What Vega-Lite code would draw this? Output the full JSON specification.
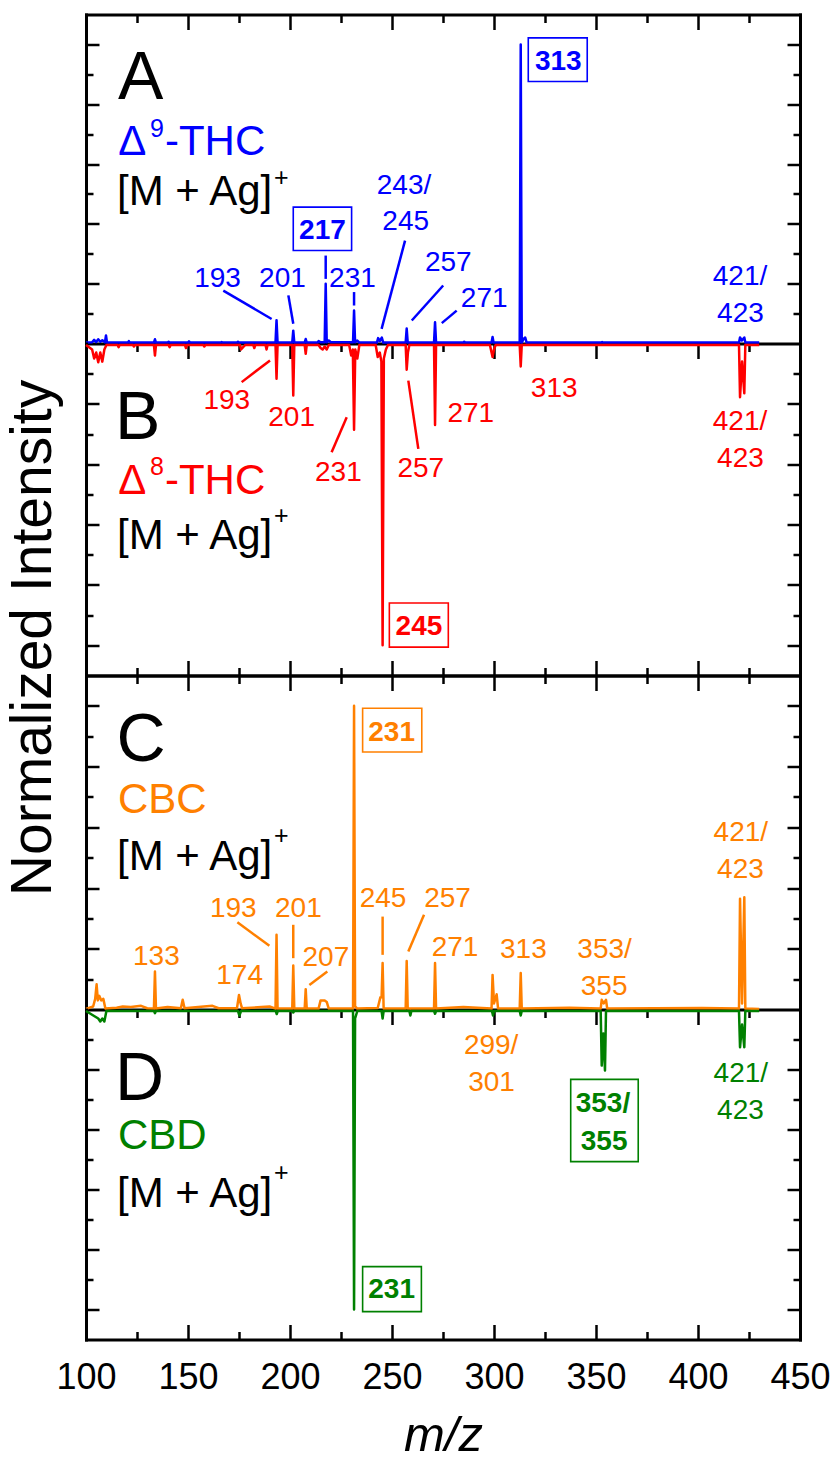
{
  "$schema": "https://vega.github.io/schema/vega-lite/v6.json",
  "padding": {"left": 4, "top": 12.5, "right": 4, "bottom": 0},
  "spacing": 0,
  "bounds": "flush",
  "config": {
    "view": {"stroke": null},
    "font": "Liberation Sans",
    "text": {"font": "Liberation Sans"},
    "axis": {"domainColor": "#000000", "domainWidth": 3, "domainCap": "square", "tickColor": "#000000", "tickWidth": 2.5, "grid": false, "labels": false, "ticks": true}
  },
  "datasets": {
    "spec": [
      {"s":"Δ9-THC","mz":100,"i":0.003},{"s":"Δ9-THC","mz":103,"i":0.004},{"s":"Δ9-THC","mz":104,"i":0.012},{"s":"Δ9-THC","mz":105,"i":0.005},{"s":"Δ9-THC","mz":106,"i":0.014},{"s":"Δ9-THC","mz":107,"i":0.006},{"s":"Δ9-THC","mz":108,"i":0.011},{"s":"Δ9-THC","mz":109.3,"i":0.004},{"s":"Δ9-THC","mz":109.8,"i":0.027},{"s":"Δ9-THC","mz":110.3,"i":0.003},
      {"s":"Δ9-THC","mz":120.5,"i":0.003},{"s":"Δ9-THC","mz":121,"i":0.008},{"s":"Δ9-THC","mz":121.5,"i":0.003},
      {"s":"Δ9-THC","mz":133.3,"i":0.003},{"s":"Δ9-THC","mz":133.8,"i":0.014},{"s":"Δ9-THC","mz":134.3,"i":0.003},
      {"s":"Δ9-THC","mz":140,"i":0.003},{"s":"Δ9-THC","mz":140.5,"i":0.006},{"s":"Δ9-THC","mz":141,"i":0.003},
      {"s":"Δ9-THC","mz":150,"i":0.003},{"s":"Δ9-THC","mz":150.5,"i":0.007},{"s":"Δ9-THC","mz":151,"i":0.003},
      {"s":"Δ9-THC","mz":166,"i":0.003},{"s":"Δ9-THC","mz":166.5,"i":0.005},{"s":"Δ9-THC","mz":167,"i":0.003},
      {"s":"Δ9-THC","mz":174,"i":0.003},{"s":"Δ9-THC","mz":174.5,"i":0.006},{"s":"Δ9-THC","mz":175,"i":0.003},
      {"s":"Δ9-THC","mz":192.9,"i":0.003},{"s":"Δ9-THC","mz":193.4,"i":0.078},{"s":"Δ9-THC","mz":193.9,"i":0.003},
      {"s":"Δ9-THC","mz":201.1,"i":0.003},{"s":"Δ9-THC","mz":201.6,"i":0.043},{"s":"Δ9-THC","mz":202.1,"i":0.003},
      {"s":"Δ9-THC","mz":207.2,"i":0.003},{"s":"Δ9-THC","mz":207.7,"i":0.015},{"s":"Δ9-THC","mz":208.2,"i":0.003},
      {"s":"Δ9-THC","mz":213.5,"i":0.003},{"s":"Δ9-THC","mz":214,"i":0.008},{"s":"Δ9-THC","mz":215,"i":0.004},
      {"s":"Δ9-THC","mz":217,"i":0.004},{"s":"Δ9-THC","mz":217.5,"i":0.2},{"s":"Δ9-THC","mz":218,"i":0.004},{"s":"Δ9-THC","mz":219,"i":0.01},{"s":"Δ9-THC","mz":220,"i":0.004},
      {"s":"Δ9-THC","mz":230.9,"i":0.004},{"s":"Δ9-THC","mz":231.4,"i":0.11},{"s":"Δ9-THC","mz":231.9,"i":0.004},{"s":"Δ9-THC","mz":233,"i":0.01},{"s":"Δ9-THC","mz":234,"i":0.003},
      {"s":"Δ9-THC","mz":242.6,"i":0.003},{"s":"Δ9-THC","mz":243.2,"i":0.018},{"s":"Δ9-THC","mz":244,"i":0.008},{"s":"Δ9-THC","mz":245,"i":0.02},{"s":"Δ9-THC","mz":245.7,"i":0.003},
      {"s":"Δ9-THC","mz":256.7,"i":0.003},{"s":"Δ9-THC","mz":257.2,"i":0.05},{"s":"Δ9-THC","mz":257.7,"i":0.003},
      {"s":"Δ9-THC","mz":270.6,"i":0.003},{"s":"Δ9-THC","mz":271.1,"i":0.071},{"s":"Δ9-THC","mz":271.6,"i":0.003},
      {"s":"Δ9-THC","mz":285,"i":0.003},{"s":"Δ9-THC","mz":285.4,"i":0.006},{"s":"Δ9-THC","mz":285.8,"i":0.003},
      {"s":"Δ9-THC","mz":298.8,"i":0.003},{"s":"Δ9-THC","mz":299.3,"i":0.022},{"s":"Δ9-THC","mz":299.8,"i":0.003},
      {"s":"Δ9-THC","mz":312.6,"i":0.003},{"s":"Δ9-THC","mz":313.1,"i":1.0},{"s":"Δ9-THC","mz":313.6,"i":0.003},{"s":"Δ9-THC","mz":314.5,"i":0.015},{"s":"Δ9-THC","mz":315.3,"i":0.02},{"s":"Δ9-THC","mz":316,"i":0.003},
      {"s":"Δ9-THC","mz":352.5,"i":0.003},{"s":"Δ9-THC","mz":353,"i":0.005},{"s":"Δ9-THC","mz":353.5,"i":0.003},
      {"s":"Δ9-THC","mz":420.1,"i":0.003},{"s":"Δ9-THC","mz":420.6,"i":0.02},{"s":"Δ9-THC","mz":421.5,"i":0.01},{"s":"Δ9-THC","mz":422.7,"i":0.02},{"s":"Δ9-THC","mz":423.2,"i":0.003},
      {"s":"Δ9-THC","mz":430,"i":0.003},

      {"s":"Δ8-THC","mz":100,"i":-0.005},{"s":"Δ8-THC","mz":103,"i":-0.02},{"s":"Δ8-THC","mz":104,"i":-0.05},{"s":"Δ8-THC","mz":105,"i":-0.03},{"s":"Δ8-THC","mz":106,"i":-0.062},{"s":"Δ8-THC","mz":107,"i":-0.03},{"s":"Δ8-THC","mz":108,"i":-0.06},{"s":"Δ8-THC","mz":109,"i":-0.02},{"s":"Δ8-THC","mz":110,"i":-0.005},
      {"s":"Δ8-THC","mz":115.5,"i":-0.005},{"s":"Δ8-THC","mz":116,"i":-0.012},{"s":"Δ8-THC","mz":116.5,"i":-0.005},
      {"s":"Δ8-THC","mz":123,"i":-0.005},{"s":"Δ8-THC","mz":123.5,"i":-0.01},{"s":"Δ8-THC","mz":124,"i":-0.005},
      {"s":"Δ8-THC","mz":133.3,"i":-0.005},{"s":"Δ8-THC","mz":133.8,"i":-0.04},{"s":"Δ8-THC","mz":134.3,"i":-0.005},
      {"s":"Δ8-THC","mz":140.5,"i":-0.005},{"s":"Δ8-THC","mz":141,"i":-0.012},{"s":"Δ8-THC","mz":141.5,"i":-0.005},
      {"s":"Δ8-THC","mz":148.5,"i":-0.005},{"s":"Δ8-THC","mz":149,"i":-0.015},{"s":"Δ8-THC","mz":149.5,"i":-0.005},
      {"s":"Δ8-THC","mz":157.5,"i":-0.005},{"s":"Δ8-THC","mz":158,"i":-0.01},{"s":"Δ8-THC","mz":158.5,"i":-0.005},
      {"s":"Δ8-THC","mz":175.5,"i":-0.005},{"s":"Δ8-THC","mz":176,"i":-0.02},{"s":"Δ8-THC","mz":177,"i":-0.012},{"s":"Δ8-THC","mz":178,"i":-0.005},
      {"s":"Δ8-THC","mz":182,"i":-0.005},{"s":"Δ8-THC","mz":182.5,"i":-0.015},{"s":"Δ8-THC","mz":183,"i":-0.005},
      {"s":"Δ8-THC","mz":188,"i":-0.005},{"s":"Δ8-THC","mz":188.5,"i":-0.02},{"s":"Δ8-THC","mz":189,"i":-0.005},
      {"s":"Δ8-THC","mz":192.9,"i":-0.005},{"s":"Δ8-THC","mz":193.4,"i":-0.117},{"s":"Δ8-THC","mz":193.9,"i":-0.005},
      {"s":"Δ8-THC","mz":201.1,"i":-0.005},{"s":"Δ8-THC","mz":201.6,"i":-0.172},{"s":"Δ8-THC","mz":202.1,"i":-0.005},
      {"s":"Δ8-THC","mz":207.2,"i":-0.005},{"s":"Δ8-THC","mz":207.7,"i":-0.034},{"s":"Δ8-THC","mz":208.2,"i":-0.005},
      {"s":"Δ8-THC","mz":214,"i":-0.005},{"s":"Δ8-THC","mz":215,"i":-0.015},{"s":"Δ8-THC","mz":216,"i":-0.02},{"s":"Δ8-THC","mz":217,"i":-0.01},{"s":"Δ8-THC","mz":218,"i":-0.02},{"s":"Δ8-THC","mz":219,"i":-0.005},
      {"s":"Δ8-THC","mz":229,"i":-0.005},{"s":"Δ8-THC","mz":230,"i":-0.04},{"s":"Δ8-THC","mz":230.8,"i":-0.02},{"s":"Δ8-THC","mz":231.4,"i":-0.286},{"s":"Δ8-THC","mz":232,"i":-0.02},{"s":"Δ8-THC","mz":233,"i":-0.05},{"s":"Δ8-THC","mz":234,"i":-0.005},
      {"s":"Δ8-THC","mz":242,"i":-0.005},{"s":"Δ8-THC","mz":243,"i":-0.045},{"s":"Δ8-THC","mz":244,"i":-0.03},{"s":"Δ8-THC","mz":244.8,"i":-0.06},{"s":"Δ8-THC","mz":245.4,"i":-1.0},{"s":"Δ8-THC","mz":246,"i":-0.05},{"s":"Δ8-THC","mz":247,"i":-0.02},{"s":"Δ8-THC","mz":248,"i":-0.005},
      {"s":"Δ8-THC","mz":256.7,"i":-0.005},{"s":"Δ8-THC","mz":257.2,"i":-0.087},{"s":"Δ8-THC","mz":257.8,"i":-0.03},{"s":"Δ8-THC","mz":258.5,"i":-0.005},
      {"s":"Δ8-THC","mz":270.6,"i":-0.005},{"s":"Δ8-THC","mz":271.1,"i":-0.27},{"s":"Δ8-THC","mz":271.6,"i":-0.005},
      {"s":"Δ8-THC","mz":298,"i":-0.005},{"s":"Δ8-THC","mz":298.8,"i":-0.03},{"s":"Δ8-THC","mz":299.3,"i":-0.045},{"s":"Δ8-THC","mz":300,"i":-0.02},{"s":"Δ8-THC","mz":300.8,"i":-0.005},
      {"s":"Δ8-THC","mz":312.6,"i":-0.005},{"s":"Δ8-THC","mz":313.1,"i":-0.076},{"s":"Δ8-THC","mz":313.6,"i":-0.005},
      {"s":"Δ8-THC","mz":420.1,"i":-0.005},{"s":"Δ8-THC","mz":420.6,"i":-0.178},{"s":"Δ8-THC","mz":421.6,"i":-0.06},{"s":"Δ8-THC","mz":422.7,"i":-0.165},{"s":"Δ8-THC","mz":423.2,"i":-0.005},
      {"s":"Δ8-THC","mz":430,"i":-0.005},

      {"s":"CBC","mz":100,"i":0.002},{"s":"CBC","mz":103.5,"i":0.01},{"s":"CBC","mz":104.5,"i":0.035},{"s":"CBC","mz":105.2,"i":0.083},{"s":"CBC","mz":105.8,"i":0.03},{"s":"CBC","mz":106.5,"i":0.045},{"s":"CBC","mz":107.5,"i":0.03},{"s":"CBC","mz":108.5,"i":0.035},{"s":"CBC","mz":109.5,"i":0.003},
      {"s":"CBC","mz":115,"i":0.006},{"s":"CBC","mz":118,"i":0.01},{"s":"CBC","mz":122,"i":0.008},{"s":"CBC","mz":127,"i":0.012},{"s":"CBC","mz":130,"i":0.004},
      {"s":"CBC","mz":133.3,"i":0.003},{"s":"CBC","mz":133.8,"i":0.125},{"s":"CBC","mz":134.3,"i":0.003},
      {"s":"CBC","mz":140,"i":0.008},{"s":"CBC","mz":146.5,"i":0.004},{"s":"CBC","mz":147.4,"i":0.032},{"s":"CBC","mz":148.3,"i":0.004},
      {"s":"CBC","mz":155,"i":0.008},{"s":"CBC","mz":162,"i":0.012},{"s":"CBC","mz":165,"i":0.004},
      {"s":"CBC","mz":174,"i":0.004},{"s":"CBC","mz":175,"i":0.048},{"s":"CBC","mz":175.8,"i":0.02},{"s":"CBC","mz":176.5,"i":0.004},
      {"s":"CBC","mz":186,"i":0.008},{"s":"CBC","mz":190,"i":0.01},
      {"s":"CBC","mz":192.9,"i":0.003},{"s":"CBC","mz":193.4,"i":0.246},{"s":"CBC","mz":193.9,"i":0.003},
      {"s":"CBC","mz":201.1,"i":0.003},{"s":"CBC","mz":201.6,"i":0.145},{"s":"CBC","mz":202.1,"i":0.003},
      {"s":"CBC","mz":207.2,"i":0.003},{"s":"CBC","mz":207.7,"i":0.067},{"s":"CBC","mz":208.2,"i":0.003},
      {"s":"CBC","mz":214,"i":0.003},{"s":"CBC","mz":215,"i":0.03},{"s":"CBC","mz":217,"i":0.03},{"s":"CBC","mz":218,"i":0.025},{"s":"CBC","mz":219,"i":0.003},
      {"s":"CBC","mz":230.9,"i":0.003},{"s":"CBC","mz":231.4,"i":1.0},{"s":"CBC","mz":231.9,"i":0.01},{"s":"CBC","mz":233,"i":0.003},
      {"s":"CBC","mz":243,"i":0.005},{"s":"CBC","mz":244.3,"i":0.04},{"s":"CBC","mz":244.9,"i":0.04},{"s":"CBC","mz":245.4,"i":0.153},{"s":"CBC","mz":245.9,"i":0.003},
      {"s":"CBC","mz":256.7,"i":0.003},{"s":"CBC","mz":257.2,"i":0.16},{"s":"CBC","mz":257.7,"i":0.003},
      {"s":"CBC","mz":270.6,"i":0.003},{"s":"CBC","mz":271.1,"i":0.153},{"s":"CBC","mz":271.6,"i":0.003},
      {"s":"CBC","mz":285,"i":0.008},
      {"s":"CBC","mz":298.8,"i":0.003},{"s":"CBC","mz":299.3,"i":0.114},{"s":"CBC","mz":300,"i":0.02},{"s":"CBC","mz":301.3,"i":0.05},{"s":"CBC","mz":302,"i":0.003},
      {"s":"CBC","mz":312.6,"i":0.003},{"s":"CBC","mz":313.1,"i":0.12},{"s":"CBC","mz":313.6,"i":0.003},
      {"s":"CBC","mz":337,"i":0.006},
      {"s":"CBC","mz":352.3,"i":0.003},{"s":"CBC","mz":352.8,"i":0.032},{"s":"CBC","mz":353.8,"i":0.02},{"s":"CBC","mz":354.9,"i":0.032},{"s":"CBC","mz":355.5,"i":0.003},
      {"s":"CBC","mz":402,"i":0.005},
      {"s":"CBC","mz":420.1,"i":0.003},{"s":"CBC","mz":420.6,"i":0.365},{"s":"CBC","mz":421.6,"i":0.02},{"s":"CBC","mz":422.7,"i":0.37},{"s":"CBC","mz":423.2,"i":0.003},
      {"s":"CBC","mz":430,"i":0.002},

      {"s":"CBD","mz":100,"i":-0.005},{"s":"CBD","mz":106,"i":-0.03},{"s":"CBD","mz":107,"i":-0.04},{"s":"CBD","mz":108,"i":-0.03},{"s":"CBD","mz":109,"i":-0.04},{"s":"CBD","mz":110,"i":-0.005},
      {"s":"CBD","mz":133.3,"i":-0.005},{"s":"CBD","mz":133.8,"i":-0.012},{"s":"CBD","mz":134.3,"i":-0.005},
      {"s":"CBD","mz":174.5,"i":-0.005},{"s":"CBD","mz":175.2,"i":-0.02},{"s":"CBD","mz":176,"i":-0.005},
      {"s":"CBD","mz":193,"i":-0.005},{"s":"CBD","mz":193.5,"i":-0.015},{"s":"CBD","mz":194,"i":-0.005},
      {"s":"CBD","mz":201.1,"i":-0.005},{"s":"CBD","mz":201.6,"i":-0.01},{"s":"CBD","mz":202.1,"i":-0.005},
      {"s":"CBD","mz":230.9,"i":-0.005},{"s":"CBD","mz":231.4,"i":-1.0},{"s":"CBD","mz":231.9,"i":-0.03},{"s":"CBD","mz":233,"i":-0.005},
      {"s":"CBD","mz":244.9,"i":-0.005},{"s":"CBD","mz":245.4,"i":-0.03},{"s":"CBD","mz":245.9,"i":-0.005},
      {"s":"CBD","mz":258.5,"i":-0.005},{"s":"CBD","mz":259,"i":-0.02},{"s":"CBD","mz":259.5,"i":-0.005},
      {"s":"CBD","mz":270.6,"i":-0.005},{"s":"CBD","mz":271.1,"i":-0.014},{"s":"CBD","mz":271.6,"i":-0.005},
      {"s":"CBD","mz":299,"i":-0.005},{"s":"CBD","mz":299.5,"i":-0.02},{"s":"CBD","mz":300,"i":-0.005},
      {"s":"CBD","mz":312.6,"i":-0.005},{"s":"CBD","mz":313.1,"i":-0.02},{"s":"CBD","mz":313.6,"i":-0.005},
      {"s":"CBD","mz":352.3,"i":-0.005},{"s":"CBD","mz":352.8,"i":-0.187},{"s":"CBD","mz":353.6,"i":-0.08},{"s":"CBD","mz":354.4,"i":-0.203},{"s":"CBD","mz":354.9,"i":-0.005},
      {"s":"CBD","mz":420.1,"i":-0.005},{"s":"CBD","mz":420.6,"i":-0.126},{"s":"CBD","mz":421.6,"i":-0.05},{"s":"CBD","mz":422.7,"i":-0.126},{"s":"CBD","mz":423.2,"i":-0.005},
      {"s":"CBD","mz":430,"i":-0.005}
    ],
    "lead": [
      {"p":"A","s":"Δ9-THC","mz":167.3,"i":0.177,"mz2":191.0,"i2":0.082},
      {"p":"A","s":"Δ9-THC","mz":199.2,"i":0.161,"mz2":201.6,"i2":0.066},
      {"p":"A","s":"Δ9-THC","mz":217.5,"i":0.294,"mz2":217.5,"i2":0.216},
      {"p":"A","s":"Δ9-THC","mz":231.4,"i":0.172,"mz2":231.4,"i2":0.127},
      {"p":"A","s":"Δ9-THC","mz":256.4,"i":0.344,"mz2":244.9,"i2":0.049},
      {"p":"A","s":"Δ9-THC","mz":275.1,"i":0.194,"mz2":259.7,"i2":0.077},
      {"p":"A","s":"Δ9-THC","mz":281.7,"i":0.110,"mz2":274.4,"i2":0.068},
      {"p":"B","s":"Δ8-THC","mz":190.2,"i":-0.056,"mz2":176.3,"i2":-0.128},
      {"p":"B","s":"Δ8-THC","mz":227.8,"i":-0.244,"mz2":220.4,"i2":-0.360},
      {"p":"B","s":"Δ8-THC","mz":258.0,"i":-0.123,"mz2":262.9,"i2":-0.349},
      {"p":"C","s":"CBC","mz":174.2,"i":0.287,"mz2":189.9,"i2":0.210},
      {"p":"C","s":"CBC","mz":201.6,"i":0.279,"mz2":201.6,"i2":0.169},
      {"p":"C","s":"CBC","mz":218.3,"i":0.125,"mz2":209.5,"i2":0.081},
      {"p":"C","s":"CBC","mz":245.4,"i":0.306,"mz2":245.4,"i2":0.180},
      {"p":"C","s":"CBC","mz":265.7,"i":0.312,"mz2":258.0,"i2":0.191}
    ],
    "box": [
      {"p":"A","s":"Δ9-THC","mz":201.6,"i":0.456,"mz2":230.2,"i2":0.311},
      {"p":"A","s":"Δ9-THC","mz":316.8,"i":1.022,"mz2":345.7,"i2":0.876},
      {"p":"B","s":"Δ8-THC","mz":248.7,"i":-0.860,"mz2":277.6,"i2":-1.006},
      {"p":"C","s":"CBC","mz":235.6,"i":0.992,"mz2":264.6,"i2":0.848},
      {"p":"D","s":"CBD","mz":337.6,"i":-0.233,"mz2":370.7,"i2":-0.507},
      {"p":"D","s":"CBD","mz":235.6,"i":-0.857,"mz2":264.4,"i2":-1.007}
    ],
    "peaks": [
      {"p":"A","s":"Δ9-THC","t":"193","mz":164.5,"i":0.19},
      {"p":"A","s":"Δ9-THC","t":"201","mz":196.3,"i":0.188},
      {"p":"A","s":"Δ9-THC","t":"231","mz":230.6,"i":0.19},
      {"p":"A","s":"Δ9-THC","t":"243/","mz":255.9,"i":0.5},
      {"p":"A","s":"Δ9-THC","t":"245","mz":256.7,"i":0.378},
      {"p":"A","s":"Δ9-THC","t":"257","mz":277.6,"i":0.244},
      {"p":"A","s":"Δ9-THC","t":"271","mz":295.2,"i":0.121},
      {"p":"A","s":"Δ9-THC","t":"421/","mz":420.6,"i":0.194},
      {"p":"A","s":"Δ9-THC","t":"423","mz":420.8,"i":0.071},
      {"p":"B","s":"Δ8-THC","t":"193","mz":169.0,"i":-0.216},
      {"p":"B","s":"Δ8-THC","t":"201","mz":200.8,"i":-0.272},
      {"p":"B","s":"Δ8-THC","t":"231","mz":223.7,"i":-0.454},
      {"p":"B","s":"Δ8-THC","t":"257","mz":264.1,"i":-0.443},
      {"p":"B","s":"Δ8-THC","t":"271","mz":288.6,"i":-0.261},
      {"p":"B","s":"Δ8-THC","t":"313","mz":329.5,"i":-0.178},
      {"p":"B","s":"Δ8-THC","t":"421/","mz":420.6,"i":-0.288},
      {"p":"B","s":"Δ8-THC","t":"423","mz":420.8,"i":-0.41},
      {"p":"C","s":"CBC","t":"133","mz":134.5,"i":0.145},
      {"p":"C","s":"CBC","t":"174","mz":175.3,"i":0.083},
      {"p":"C","s":"CBC","t":"193","mz":172.2,"i":0.306},
      {"p":"C","s":"CBC","t":"201","mz":204.1,"i":0.306},
      {"p":"C","s":"CBC","t":"207","mz":217.6,"i":0.142},
      {"p":"C","s":"CBC","t":"245","mz":245.6,"i":0.336},
      {"p":"C","s":"CBC","t":"257","mz":277.2,"i":0.336},
      {"p":"C","s":"CBC","t":"271","mz":280.9,"i":0.175},
      {"p":"C","s":"CBC","t":"313","mz":314.4,"i":0.169},
      {"p":"C","s":"CBC","t":"353/","mz":354.2,"i":0.169},
      {"p":"C","s":"CBC","t":"355","mz":354.0,"i":0.048},
      {"p":"C","s":"CBC","t":"421/","mz":421.0,"i":0.554},
      {"p":"C","s":"CBC","t":"423","mz":420.8,"i":0.433},
      {"p":"D","s":"CBC","t":"299/","mz":298.6,"i":-0.148},
      {"p":"D","s":"CBC","t":"301","mz":298.8,"i":-0.27},
      {"p":"D","s":"CBD","t":"421/","mz":421.0,"i":-0.242},
      {"p":"D","s":"CBD","t":"423","mz":420.8,"i":-0.364}
    ],
    "boxed": [
      {"p":"A","s":"Δ9-THC","t":"217","mz":215.9,"i":0.35},
      {"p":"A","s":"Δ9-THC","t":"313","mz":331.5,"i":0.913},
      {"p":"B","s":"Δ8-THC","t":"245","mz":263.2,"i":-0.967},
      {"p":"C","s":"CBC","t":"231","mz":249.8,"i":0.883},
      {"p":"D","s":"CBD","t":"353/","mz":353.4,"i":-0.342},
      {"p":"D","s":"CBD","t":"355","mz":354.0,"i":-0.468},
      {"p":"D","s":"CBD","t":"231","mz":249.8,"i":-0.96}
    ],
    "names": [
      {"p":"A","s":"Δ9-THC","t":"Δ","mz":115.8,"i":0.629},
      {"p":"A","s":"Δ9-THC","t":"-THC","mz":138.7,"i":0.629},
      {"p":"A","s":"ion","t":"[M + Ag]","mz":115.2,"i":0.462},
      {"p":"B","s":"Δ8-THC","t":"Δ","mz":115.8,"i":-0.498},
      {"p":"B","s":"Δ8-THC","t":"-THC","mz":138.7,"i":-0.498},
      {"p":"B","s":"ion","t":"[M + Ag]","mz":115.2,"i":-0.68},
      {"p":"C","s":"CBC","t":"CBC","mz":115.7,"i":0.647},
      {"p":"C","s":"ion","t":"[M + Ag]","mz":115.2,"i":0.46},
      {"p":"D","s":"CBD","t":"CBD","mz":115.7,"i":-0.464},
      {"p":"D","s":"ion","t":"[M + Ag]","mz":115.2,"i":-0.659}
    ],
    "sups": [
      {"p":"A","s":"Δ9-THC","t":"9","mz":131.4,"i":0.69},
      {"p":"A","s":"ion","t":"+","mz":192.2,"i":0.527},
      {"p":"B","s":"Δ8-THC","t":"8","mz":131.4,"i":-0.437},
      {"p":"B","s":"ion","t":"+","mz":192.2,"i":-0.599},
      {"p":"C","s":"ion","t":"+","mz":192.2,"i":0.545},
      {"p":"D","s":"ion","t":"+","mz":192.2,"i":-0.573}
    ],
    "letters": [
      {"p":"A","s":"ion","t":"A","mz":115.7,"i":0.818},
      {"p":"B","s":"ion","t":"B","mz":114.2,"i":-0.316},
      {"p":"C","s":"ion","t":"C","mz":115.0,"i":0.82},
      {"p":"D","s":"ion","t":"D","mz":114.2,"i":-0.303}
    ]
  },
  "vconcat": [
    {
      "width": 714, "height": 329,
      "resolve": {"axis": {"x": "independent", "y": "independent"}},
      "layer": [
        {"data": {"name": "spec"}, "transform": [{"filter": "datum.s === 'Δ9-THC'"}],
         "mark": {"type": "line", "strokeWidth": 2.5, "strokeJoin": "round"},
         "encoding": {
           "x": {"field": "mz", "type": "quantitative", "scale": {"domain": [100, 450], "nice": false, "zero": false},
                 "axis": {"orient": "top", "title": null, "values": [125,150,175,200,225,250,275,300,325,350,375,400,425], "tickSize": {"condition": {"test": "datum.value % 50 === 0", "value": -15}, "value": -8}}},
           "y": {"field": "i", "type": "quantitative", "scale": {"domain": [0, 1.1], "nice": false, "zero": false},
                 "axis": {"orient": "left", "values": [0.1,0.2,0.3,0.4,0.5,0.6,0.7,0.8,0.9,1.0], "tickSize": {"condition": {"test": "round(abs(datum.value)*10) % 2 === 0", "value": -13}, "value": -7},
                          "title": "Normalized Intensity", "titleFont": "Liberation Sans", "titleFontSize": 57, "titleFontWeight": "normal", "titleColor": "#000000", "titleX": -36, "titleY": 623, "titleAngle": 270, "titleAlign": "center", "titleBaseline": "alphabetic"}},
           "color": {"field": "s", "type": "nominal", "scale": {"domain": ["Δ9-THC","Δ8-THC","CBC","CBD","ion"], "range": ["#0000FF","#FF0000","#FF8000","#008000","#000000"]}, "legend": null}
         }},
        {"data": {"name": "box"}, "transform": [{"filter": "datum.p === 'A'"}],
         "mark": {"type": "rect", "filled": false, "strokeWidth": 1.6},
         "encoding": {
           "x": {"field": "mz", "type": "quantitative", "scale": {"domain": [100, 450], "nice": false, "zero": false},
                 "axis": {"orient": "bottom", "title": null, "values": [125,150,175,200,225,250,275,300,325,350,375,400,425], "tickSize": {"condition": {"test": "datum.value % 50 === 0", "value": 15}, "value": 8}}},
           "x2": {"field": "mz2"},
           "y": {"field": "i", "type": "quantitative", "scale": {"domain": [0, 1.1], "nice": false, "zero": false},
                 "axis": {"orient": "right", "title": null, "values": [0.1,0.2,0.3,0.4,0.5,0.6,0.7,0.8,0.9,1.0], "tickSize": {"condition": {"test": "round(abs(datum.value)*10) % 2 === 0", "value": -13}, "value": -7}}},
           "y2": {"field": "i2"},
           "color": {"field": "s", "type": "nominal", "scale": {"domain": ["Δ9-THC","Δ8-THC","CBC","CBD","ion"], "range": ["#0000FF","#FF0000","#FF8000","#008000","#000000"]}, "legend": null}
         }},
        {"data": {"name": "lead"}, "transform": [{"filter": "datum.p === 'A'"}],
         "mark": {"type": "rule", "strokeWidth": 2.5},
         "encoding": {
           "x": {"field": "mz", "type": "quantitative", "scale": {"domain": [100, 450], "nice": false, "zero": false}, "axis": null},
           "x2": {"field": "mz2"},
           "y": {"field": "i", "type": "quantitative", "scale": {"domain": [0, 1.1], "nice": false, "zero": false}, "axis": null},
           "y2": {"field": "i2"},
           "color": {"field": "s", "type": "nominal", "scale": {"domain": ["Δ9-THC","Δ8-THC","CBC","CBD","ion"], "range": ["#0000FF","#FF0000","#FF8000","#008000","#000000"]}, "legend": null}
         }},
        {"data": {"name": "peaks"}, "transform": [{"filter": "datum.p === 'A'"}],
         "mark": {"type": "text", "fontSize": 28, "align": "center", "baseline": "alphabetic"},
         "encoding": {
           "x": {"field": "mz", "type": "quantitative", "scale": {"domain": [100, 450], "nice": false, "zero": false}, "axis": null},
           "y": {"field": "i", "type": "quantitative", "scale": {"domain": [0, 1.1], "nice": false, "zero": false}, "axis": null},
           "text": {"field": "t"},
           "color": {"field": "s", "type": "nominal", "scale": {"domain": ["Δ9-THC","Δ8-THC","CBC","CBD","ion"], "range": ["#0000FF","#FF0000","#FF8000","#008000","#000000"]}, "legend": null}
         }},
        {"data": {"name": "boxed"}, "transform": [{"filter": "datum.p === 'A'"}],
         "mark": {"type": "text", "fontSize": 28, "fontWeight": "bold", "align": "center", "baseline": "alphabetic"},
         "encoding": {
           "x": {"field": "mz", "type": "quantitative", "scale": {"domain": [100, 450], "nice": false, "zero": false}, "axis": null},
           "y": {"field": "i", "type": "quantitative", "scale": {"domain": [0, 1.1], "nice": false, "zero": false}, "axis": null},
           "text": {"field": "t"},
           "color": {"field": "s", "type": "nominal", "scale": {"domain": ["Δ9-THC","Δ8-THC","CBC","CBD","ion"], "range": ["#0000FF","#FF0000","#FF8000","#008000","#000000"]}, "legend": null}
         }},
        {"data": {"name": "names"}, "transform": [{"filter": "datum.p === 'A'"}],
         "mark": {"type": "text", "fontSize": 42, "align": "left", "baseline": "alphabetic"},
         "encoding": {
           "x": {"field": "mz", "type": "quantitative", "scale": {"domain": [100, 450], "nice": false, "zero": false}, "axis": null},
           "y": {"field": "i", "type": "quantitative", "scale": {"domain": [0, 1.1], "nice": false, "zero": false}, "axis": null},
           "text": {"field": "t"},
           "color": {"field": "s", "type": "nominal", "scale": {"domain": ["Δ9-THC","Δ8-THC","CBC","CBD","ion"], "range": ["#0000FF","#FF0000","#FF8000","#008000","#000000"]}, "legend": null}
         }},
        {"data": {"name": "sups"}, "transform": [{"filter": "datum.p === 'A'"}],
         "mark": {"type": "text", "fontSize": 25, "align": "left", "baseline": "alphabetic"},
         "encoding": {
           "x": {"field": "mz", "type": "quantitative", "scale": {"domain": [100, 450], "nice": false, "zero": false}, "axis": null},
           "y": {"field": "i", "type": "quantitative", "scale": {"domain": [0, 1.1], "nice": false, "zero": false}, "axis": null},
           "text": {"field": "t"},
           "color": {"field": "s", "type": "nominal", "scale": {"domain": ["Δ9-THC","Δ8-THC","CBC","CBD","ion"], "range": ["#0000FF","#FF0000","#FF8000","#008000","#000000"]}, "legend": null}
         }},
        {"data": {"name": "letters"}, "transform": [{"filter": "datum.p === 'A'"}],
         "mark": {"type": "text", "fontSize": 68, "align": "left", "baseline": "alphabetic"},
         "encoding": {
           "x": {"field": "mz", "type": "quantitative", "scale": {"domain": [100, 450], "nice": false, "zero": false}, "axis": null},
           "y": {"field": "i", "type": "quantitative", "scale": {"domain": [0, 1.1], "nice": false, "zero": false}, "axis": null},
           "text": {"field": "t"},
           "color": {"field": "s", "type": "nominal", "scale": {"domain": ["Δ9-THC","Δ8-THC","CBC","CBD","ion"], "range": ["#0000FF","#FF0000","#FF8000","#008000","#000000"]}, "legend": null}
         }}
      ]
    },
    {
      "width": 714, "height": 332,
      "resolve": {"axis": {"x": "independent", "y": "independent"}},
      "layer": [
        {"data": {"name": "spec"}, "transform": [{"filter": "datum.s === 'Δ8-THC'"}],
         "mark": {"type": "line", "strokeWidth": 2.5, "strokeJoin": "round"},
         "encoding": {
           "x": {"field": "mz", "type": "quantitative", "scale": {"domain": [100, 450], "nice": false, "zero": false},
                 "axis": {"orient": "bottom", "title": null, "values": [125,150,175,200,225,250,275,300,325,350,375,400,425], "tickSize": {"condition": {"test": "datum.value % 50 === 0", "value": -15}, "value": -8}}},
           "y": {"field": "i", "type": "quantitative", "scale": {"domain": [-1.1, 0], "nice": false, "zero": false},
                 "axis": {"orient": "left", "title": null, "values": [-0.1,-0.2,-0.3,-0.4,-0.5,-0.6,-0.7,-0.8,-0.9,-1.0], "tickSize": {"condition": {"test": "round(abs(datum.value)*10) % 2 === 0", "value": -13}, "value": -7}}},
           "color": {"field": "s", "type": "nominal", "scale": {"domain": ["Δ9-THC","Δ8-THC","CBC","CBD","ion"], "range": ["#0000FF","#FF0000","#FF8000","#008000","#000000"]}, "legend": null}
         }},
        {"data": {"name": "box"}, "transform": [{"filter": "datum.p === 'B'"}],
         "mark": {"type": "rect", "filled": false, "strokeWidth": 1.6},
         "encoding": {
           "x": {"field": "mz", "type": "quantitative", "scale": {"domain": [100, 450], "nice": false, "zero": false}, "axis": null},
           "x2": {"field": "mz2"},
           "y": {"field": "i", "type": "quantitative", "scale": {"domain": [-1.1, 0], "nice": false, "zero": false},
                 "axis": {"orient": "right", "title": null, "values": [-0.1,-0.2,-0.3,-0.4,-0.5,-0.6,-0.7,-0.8,-0.9,-1.0], "tickSize": {"condition": {"test": "round(abs(datum.value)*10) % 2 === 0", "value": -13}, "value": -7}}},
           "y2": {"field": "i2"},
           "color": {"field": "s", "type": "nominal", "scale": {"domain": ["Δ9-THC","Δ8-THC","CBC","CBD","ion"], "range": ["#0000FF","#FF0000","#FF8000","#008000","#000000"]}, "legend": null}
         }},
        {"data": {"name": "lead"}, "transform": [{"filter": "datum.p === 'B'"}],
         "mark": {"type": "rule", "strokeWidth": 2.5},
         "encoding": {
           "x": {"field": "mz", "type": "quantitative", "scale": {"domain": [100, 450], "nice": false, "zero": false}, "axis": null},
           "x2": {"field": "mz2"},
           "y": {"field": "i", "type": "quantitative", "scale": {"domain": [-1.1, 0], "nice": false, "zero": false}, "axis": null},
           "y2": {"field": "i2"},
           "color": {"field": "s", "type": "nominal", "scale": {"domain": ["Δ9-THC","Δ8-THC","CBC","CBD","ion"], "range": ["#0000FF","#FF0000","#FF8000","#008000","#000000"]}, "legend": null}
         }},
        {"data": {"name": "peaks"}, "transform": [{"filter": "datum.p === 'B'"}],
         "mark": {"type": "text", "fontSize": 28, "align": "center", "baseline": "alphabetic"},
         "encoding": {
           "x": {"field": "mz", "type": "quantitative", "scale": {"domain": [100, 450], "nice": false, "zero": false}, "axis": null},
           "y": {"field": "i", "type": "quantitative", "scale": {"domain": [-1.1, 0], "nice": false, "zero": false}, "axis": null},
           "text": {"field": "t"},
           "color": {"field": "s", "type": "nominal", "scale": {"domain": ["Δ9-THC","Δ8-THC","CBC","CBD","ion"], "range": ["#0000FF","#FF0000","#FF8000","#008000","#000000"]}, "legend": null}
         }},
        {"data": {"name": "boxed"}, "transform": [{"filter": "datum.p === 'B'"}],
         "mark": {"type": "text", "fontSize": 28, "fontWeight": "bold", "align": "center", "baseline": "alphabetic"},
         "encoding": {
           "x": {"field": "mz", "type": "quantitative", "scale": {"domain": [100, 450], "nice": false, "zero": false}, "axis": null},
           "y": {"field": "i", "type": "quantitative", "scale": {"domain": [-1.1, 0], "nice": false, "zero": false}, "axis": null},
           "text": {"field": "t"},
           "color": {"field": "s", "type": "nominal", "scale": {"domain": ["Δ9-THC","Δ8-THC","CBC","CBD","ion"], "range": ["#0000FF","#FF0000","#FF8000","#008000","#000000"]}, "legend": null}
         }},
        {"data": {"name": "names"}, "transform": [{"filter": "datum.p === 'B'"}],
         "mark": {"type": "text", "fontSize": 42, "align": "left", "baseline": "alphabetic"},
         "encoding": {
           "x": {"field": "mz", "type": "quantitative", "scale": {"domain": [100, 450], "nice": false, "zero": false}, "axis": null},
           "y": {"field": "i", "type": "quantitative", "scale": {"domain": [-1.1, 0], "nice": false, "zero": false}, "axis": null},
           "text": {"field": "t"},
           "color": {"field": "s", "type": "nominal", "scale": {"domain": ["Δ9-THC","Δ8-THC","CBC","CBD","ion"], "range": ["#0000FF","#FF0000","#FF8000","#008000","#000000"]}, "legend": null}
         }},
        {"data": {"name": "sups"}, "transform": [{"filter": "datum.p === 'B'"}],
         "mark": {"type": "text", "fontSize": 25, "align": "left", "baseline": "alphabetic"},
         "encoding": {
           "x": {"field": "mz", "type": "quantitative", "scale": {"domain": [100, 450], "nice": false, "zero": false}, "axis": null},
           "y": {"field": "i", "type": "quantitative", "scale": {"domain": [-1.1, 0], "nice": false, "zero": false}, "axis": null},
           "text": {"field": "t"},
           "color": {"field": "s", "type": "nominal", "scale": {"domain": ["Δ9-THC","Δ8-THC","CBC","CBD","ion"], "range": ["#0000FF","#FF0000","#FF8000","#008000","#000000"]}, "legend": null}
         }},
        {"data": {"name": "letters"}, "transform": [{"filter": "datum.p === 'B'"}],
         "mark": {"type": "text", "fontSize": 68, "align": "left", "baseline": "alphabetic"},
         "encoding": {
           "x": {"field": "mz", "type": "quantitative", "scale": {"domain": [100, 450], "nice": false, "zero": false}, "axis": null},
           "y": {"field": "i", "type": "quantitative", "scale": {"domain": [-1.1, 0], "nice": false, "zero": false}, "axis": null},
           "text": {"field": "t"},
           "color": {"field": "s", "type": "nominal", "scale": {"domain": ["Δ9-THC","Δ8-THC","CBC","CBD","ion"], "range": ["#0000FF","#FF0000","#FF8000","#008000","#000000"]}, "legend": null}
         }}
      ]
    },
    {
      "width": 714, "height": 334,
      "resolve": {"axis": {"x": "independent", "y": "independent"}},
      "layer": [
        {"data": {"name": "spec"}, "transform": [{"filter": "datum.s === 'CBC'"}],
         "mark": {"type": "line", "strokeWidth": 2.5, "strokeJoin": "round"},
         "encoding": {
           "x": {"field": "mz", "type": "quantitative", "scale": {"domain": [100, 450], "nice": false, "zero": false},
                 "axis": {"orient": "top", "title": null, "values": [125,150,175,200,225,250,275,300,325,350,375,400,425], "tickSize": {"condition": {"test": "datum.value % 50 === 0", "value": -15}, "value": -8}}},
           "y": {"field": "i", "type": "quantitative", "scale": {"domain": [0, 1.1], "nice": false, "zero": false},
                 "axis": {"orient": "left", "title": null, "values": [0.1,0.2,0.3,0.4,0.5,0.6,0.7,0.8,0.9,1.0], "tickSize": {"condition": {"test": "round(abs(datum.value)*10) % 2 === 0", "value": -13}, "value": -7}}},
           "color": {"field": "s", "type": "nominal", "scale": {"domain": ["Δ9-THC","Δ8-THC","CBC","CBD","ion"], "range": ["#0000FF","#FF0000","#FF8000","#008000","#000000"]}, "legend": null}
         }},
        {"data": {"name": "box"}, "transform": [{"filter": "datum.p === 'C'"}],
         "mark": {"type": "rect", "filled": false, "strokeWidth": 1.6},
         "encoding": {
           "x": {"field": "mz", "type": "quantitative", "scale": {"domain": [100, 450], "nice": false, "zero": false},
                 "axis": {"orient": "bottom", "title": null, "values": [125,150,175,200,225,250,275,300,325,350,375,400,425], "tickSize": {"condition": {"test": "datum.value % 50 === 0", "value": 15}, "value": 8}}},
           "x2": {"field": "mz2"},
           "y": {"field": "i", "type": "quantitative", "scale": {"domain": [0, 1.1], "nice": false, "zero": false},
                 "axis": {"orient": "right", "title": null, "values": [0.1,0.2,0.3,0.4,0.5,0.6,0.7,0.8,0.9,1.0], "tickSize": {"condition": {"test": "round(abs(datum.value)*10) % 2 === 0", "value": -13}, "value": -7}}},
           "y2": {"field": "i2"},
           "color": {"field": "s", "type": "nominal", "scale": {"domain": ["Δ9-THC","Δ8-THC","CBC","CBD","ion"], "range": ["#0000FF","#FF0000","#FF8000","#008000","#000000"]}, "legend": null}
         }},
        {"data": {"name": "lead"}, "transform": [{"filter": "datum.p === 'C'"}],
         "mark": {"type": "rule", "strokeWidth": 2.5},
         "encoding": {
           "x": {"field": "mz", "type": "quantitative", "scale": {"domain": [100, 450], "nice": false, "zero": false}, "axis": null},
           "x2": {"field": "mz2"},
           "y": {"field": "i", "type": "quantitative", "scale": {"domain": [0, 1.1], "nice": false, "zero": false}, "axis": null},
           "y2": {"field": "i2"},
           "color": {"field": "s", "type": "nominal", "scale": {"domain": ["Δ9-THC","Δ8-THC","CBC","CBD","ion"], "range": ["#0000FF","#FF0000","#FF8000","#008000","#000000"]}, "legend": null}
         }},
        {"data": {"name": "peaks"}, "transform": [{"filter": "datum.p === 'C'"}],
         "mark": {"type": "text", "fontSize": 28, "align": "center", "baseline": "alphabetic"},
         "encoding": {
           "x": {"field": "mz", "type": "quantitative", "scale": {"domain": [100, 450], "nice": false, "zero": false}, "axis": null},
           "y": {"field": "i", "type": "quantitative", "scale": {"domain": [0, 1.1], "nice": false, "zero": false}, "axis": null},
           "text": {"field": "t"},
           "color": {"field": "s", "type": "nominal", "scale": {"domain": ["Δ9-THC","Δ8-THC","CBC","CBD","ion"], "range": ["#0000FF","#FF0000","#FF8000","#008000","#000000"]}, "legend": null}
         }},
        {"data": {"name": "boxed"}, "transform": [{"filter": "datum.p === 'C'"}],
         "mark": {"type": "text", "fontSize": 28, "fontWeight": "bold", "align": "center", "baseline": "alphabetic"},
         "encoding": {
           "x": {"field": "mz", "type": "quantitative", "scale": {"domain": [100, 450], "nice": false, "zero": false}, "axis": null},
           "y": {"field": "i", "type": "quantitative", "scale": {"domain": [0, 1.1], "nice": false, "zero": false}, "axis": null},
           "text": {"field": "t"},
           "color": {"field": "s", "type": "nominal", "scale": {"domain": ["Δ9-THC","Δ8-THC","CBC","CBD","ion"], "range": ["#0000FF","#FF0000","#FF8000","#008000","#000000"]}, "legend": null}
         }},
        {"data": {"name": "names"}, "transform": [{"filter": "datum.p === 'C'"}],
         "mark": {"type": "text", "fontSize": 42, "align": "left", "baseline": "alphabetic"},
         "encoding": {
           "x": {"field": "mz", "type": "quantitative", "scale": {"domain": [100, 450], "nice": false, "zero": false}, "axis": null},
           "y": {"field": "i", "type": "quantitative", "scale": {"domain": [0, 1.1], "nice": false, "zero": false}, "axis": null},
           "text": {"field": "t"},
           "color": {"field": "s", "type": "nominal", "scale": {"domain": ["Δ9-THC","Δ8-THC","CBC","CBD","ion"], "range": ["#0000FF","#FF0000","#FF8000","#008000","#000000"]}, "legend": null}
         }},
        {"data": {"name": "sups"}, "transform": [{"filter": "datum.p === 'C'"}],
         "mark": {"type": "text", "fontSize": 25, "align": "left", "baseline": "alphabetic"},
         "encoding": {
           "x": {"field": "mz", "type": "quantitative", "scale": {"domain": [100, 450], "nice": false, "zero": false}, "axis": null},
           "y": {"field": "i", "type": "quantitative", "scale": {"domain": [0, 1.1], "nice": false, "zero": false}, "axis": null},
           "text": {"field": "t"},
           "color": {"field": "s", "type": "nominal", "scale": {"domain": ["Δ9-THC","Δ8-THC","CBC","CBD","ion"], "range": ["#0000FF","#FF0000","#FF8000","#008000","#000000"]}, "legend": null}
         }},
        {"data": {"name": "letters"}, "transform": [{"filter": "datum.p === 'C'"}],
         "mark": {"type": "text", "fontSize": 68, "align": "left", "baseline": "alphabetic"},
         "encoding": {
           "x": {"field": "mz", "type": "quantitative", "scale": {"domain": [100, 450], "nice": false, "zero": false}, "axis": null},
           "y": {"field": "i", "type": "quantitative", "scale": {"domain": [0, 1.1], "nice": false, "zero": false}, "axis": null},
           "text": {"field": "t"},
           "color": {"field": "s", "type": "nominal", "scale": {"domain": ["Δ9-THC","Δ8-THC","CBC","CBD","ion"], "range": ["#0000FF","#FF0000","#FF8000","#008000","#000000"]}, "legend": null}
         }}
      ]
    },
    {
      "width": 714, "height": 330,
      "resolve": {"axis": {"x": "independent", "y": "independent"}},
      "layer": [
        {"data": {"name": "spec"}, "transform": [{"filter": "datum.s === 'CBD'"}],
         "mark": {"type": "line", "strokeWidth": 2.5, "strokeJoin": "round"},
         "encoding": {
           "x": {"field": "mz", "type": "quantitative", "scale": {"domain": [100, 450], "nice": false, "zero": false},
                 "axis": {"orient": "bottom", "values": [100,125,150,175,200,225,250,275,300,325,350,375,400,425,450], "tickSize": {"condition": {"test": "datum.value % 50 === 0", "value": -15}, "value": -8},
                          "labels": true, "labelExpr": "datum.value % 50 === 0 ? datum.label : ''", "labelFont": "Liberation Sans", "labelFontSize": 36, "labelColor": "#000000", "labelBaseline": "alphabetic", "labelPadding": 64, "labelFlush": false, "labelOverlap": false, "labelAngle": 0,
                          "title": "m/z", "titleFont": "Liberation Sans", "titleFontSize": 49, "titleFontStyle": "italic", "titleFontWeight": "normal", "titleColor": "#000000", "titleX": 357, "titleY": 111, "titleAlign": "center", "titleBaseline": "alphabetic"}},
           "y": {"field": "i", "type": "quantitative", "scale": {"domain": [-1.1, 0], "nice": false, "zero": false},
                 "axis": {"orient": "left", "title": null, "values": [-0.1,-0.2,-0.3,-0.4,-0.5,-0.6,-0.7,-0.8,-0.9,-1.0], "tickSize": {"condition": {"test": "round(abs(datum.value)*10) % 2 === 0", "value": -13}, "value": -7}}},
           "color": {"field": "s", "type": "nominal", "scale": {"domain": ["Δ9-THC","Δ8-THC","CBC","CBD","ion"], "range": ["#0000FF","#FF0000","#FF8000","#008000","#000000"]}, "legend": null}
         }},
        {"data": {"name": "box"}, "transform": [{"filter": "datum.p === 'D'"}],
         "mark": {"type": "rect", "filled": false, "strokeWidth": 1.6},
         "encoding": {
           "x": {"field": "mz", "type": "quantitative", "scale": {"domain": [100, 450], "nice": false, "zero": false}, "axis": null},
           "x2": {"field": "mz2"},
           "y": {"field": "i", "type": "quantitative", "scale": {"domain": [-1.1, 0], "nice": false, "zero": false},
                 "axis": {"orient": "right", "title": null, "values": [-0.1,-0.2,-0.3,-0.4,-0.5,-0.6,-0.7,-0.8,-0.9,-1.0], "tickSize": {"condition": {"test": "round(abs(datum.value)*10) % 2 === 0", "value": -13}, "value": -7}}},
           "y2": {"field": "i2"},
           "color": {"field": "s", "type": "nominal", "scale": {"domain": ["Δ9-THC","Δ8-THC","CBC","CBD","ion"], "range": ["#0000FF","#FF0000","#FF8000","#008000","#000000"]}, "legend": null}
         }},
        {"data": {"name": "peaks"}, "transform": [{"filter": "datum.p === 'D'"}],
         "mark": {"type": "text", "fontSize": 28, "align": "center", "baseline": "alphabetic"},
         "encoding": {
           "x": {"field": "mz", "type": "quantitative", "scale": {"domain": [100, 450], "nice": false, "zero": false}, "axis": null},
           "y": {"field": "i", "type": "quantitative", "scale": {"domain": [-1.1, 0], "nice": false, "zero": false}, "axis": null},
           "text": {"field": "t"},
           "color": {"field": "s", "type": "nominal", "scale": {"domain": ["Δ9-THC","Δ8-THC","CBC","CBD","ion"], "range": ["#0000FF","#FF0000","#FF8000","#008000","#000000"]}, "legend": null}
         }},
        {"data": {"name": "boxed"}, "transform": [{"filter": "datum.p === 'D'"}],
         "mark": {"type": "text", "fontSize": 28, "fontWeight": "bold", "align": "center", "baseline": "alphabetic"},
         "encoding": {
           "x": {"field": "mz", "type": "quantitative", "scale": {"domain": [100, 450], "nice": false, "zero": false}, "axis": null},
           "y": {"field": "i", "type": "quantitative", "scale": {"domain": [-1.1, 0], "nice": false, "zero": false}, "axis": null},
           "text": {"field": "t"},
           "color": {"field": "s", "type": "nominal", "scale": {"domain": ["Δ9-THC","Δ8-THC","CBC","CBD","ion"], "range": ["#0000FF","#FF0000","#FF8000","#008000","#000000"]}, "legend": null}
         }},
        {"data": {"name": "names"}, "transform": [{"filter": "datum.p === 'D'"}],
         "mark": {"type": "text", "fontSize": 42, "align": "left", "baseline": "alphabetic"},
         "encoding": {
           "x": {"field": "mz", "type": "quantitative", "scale": {"domain": [100, 450], "nice": false, "zero": false}, "axis": null},
           "y": {"field": "i", "type": "quantitative", "scale": {"domain": [-1.1, 0], "nice": false, "zero": false}, "axis": null},
           "text": {"field": "t"},
           "color": {"field": "s", "type": "nominal", "scale": {"domain": ["Δ9-THC","Δ8-THC","CBC","CBD","ion"], "range": ["#0000FF","#FF0000","#FF8000","#008000","#000000"]}, "legend": null}
         }},
        {"data": {"name": "sups"}, "transform": [{"filter": "datum.p === 'D'"}],
         "mark": {"type": "text", "fontSize": 25, "align": "left", "baseline": "alphabetic"},
         "encoding": {
           "x": {"field": "mz", "type": "quantitative", "scale": {"domain": [100, 450], "nice": false, "zero": false}, "axis": null},
           "y": {"field": "i", "type": "quantitative", "scale": {"domain": [-1.1, 0], "nice": false, "zero": false}, "axis": null},
           "text": {"field": "t"},
           "color": {"field": "s", "type": "nominal", "scale": {"domain": ["Δ9-THC","Δ8-THC","CBC","CBD","ion"], "range": ["#0000FF","#FF0000","#FF8000","#008000","#000000"]}, "legend": null}
         }},
        {"data": {"name": "letters"}, "transform": [{"filter": "datum.p === 'D'"}],
         "mark": {"type": "text", "fontSize": 68, "align": "left", "baseline": "alphabetic"},
         "encoding": {
           "x": {"field": "mz", "type": "quantitative", "scale": {"domain": [100, 450], "nice": false, "zero": false}, "axis": null},
           "y": {"field": "i", "type": "quantitative", "scale": {"domain": [-1.1, 0], "nice": false, "zero": false}, "axis": null},
           "text": {"field": "t"},
           "color": {"field": "s", "type": "nominal", "scale": {"domain": ["Δ9-THC","Δ8-THC","CBC","CBD","ion"], "range": ["#0000FF","#FF0000","#FF8000","#008000","#000000"]}, "legend": null}
         }}
      ]
    }
  ]
}
